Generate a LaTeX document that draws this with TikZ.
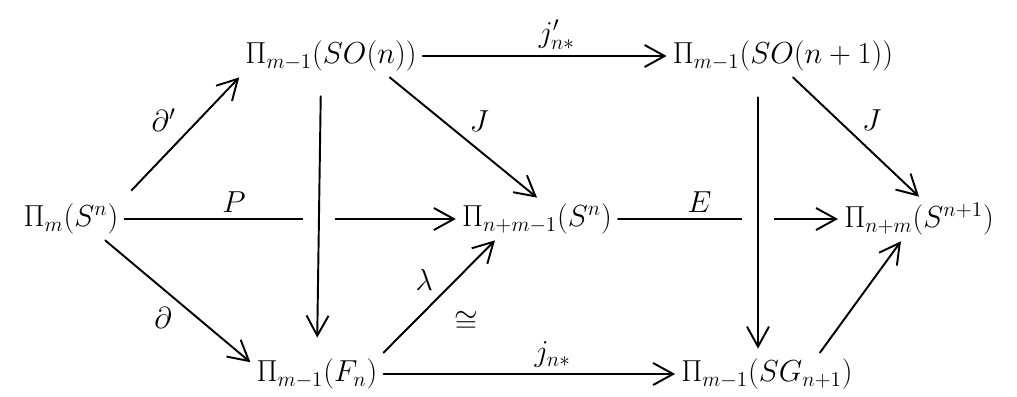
\documentclass[tikz,border=0pt]{standalone}
\usepackage{amsmath,amssymb}
\usetikzlibrary{arrows.meta}
\begin{document}
\begin{tikzpicture}[x=0.02cm,y=-0.02cm,>={Straight Barb[length=4mm,width=4.4mm]}, font=\LARGE, line join=round, line cap=round, line width=1.1pt, inner sep=3pt, over/.style={preaction={draw=white,-,line cap=butt,line width=18pt}}]
	\useasboundingbox (0,0) rectangle (1017,396);
	\node (ms) at (71,219) {$\Pi_m(S^n)$};
	\node (so) at (331,56) {$\Pi_{m-1}(SO(n))$};
	\node (son) at (783,56) {$\Pi_{m-1}(SO(n+1))$};
	\node (snm) at (537,219) {$\Pi_{n+m-1}(S^n)$};
	\node (snp) at (919,219) {$\Pi_{n+m}(S^{n+1})$};
	\node (fn) at (317,374) {$\Pi_{m-1}(F_n)$};
	\node (sg) at (767,374) {$\Pi_{m-1}(SG_{n+1})$};
	\draw[->,shorten <=0.2cm] (ms.north east) -- (so.south west) node[midway,above left]{$\partial'$};
	\draw[->] (ms.-32) -- (fn.170) node[midway,below left]{$\partial$};
	\draw[->] (ms.east) -- (snm.west) node[pos=0.33,above]{$P$};
	\draw[->] (snm.east) -- (snp.west) node[pos=0.37,above]{$E$};
	\draw[->] (so.east) -- (son.west) node[pos=0.55,above]{$j'_{n*}$};
	\draw[->] (fn.east) -- (sg.west) node[pos=0.58,above]{$j_{n*}$};
	\draw[->] (so.-20) -- (snm.north) node[midway,above right]{$J$};
	\draw[->] (son.-65) -- (snp.north) node[midway,above right]{$J$};
	\draw[->] (fn.north east) -- (snm.-153) node[midway,above left]{$\lambda$} node[midway,below right=5pt]{$\cong$};
	\draw[->] (sg.22) -- (snp.-129);
	\draw[->,over,shorten <=0.38cm,shorten >=0.3cm] ([xshift=-0.2cm]so.south) -- (fn.north);
	\draw[->,over,shorten <=0.4cm,shorten >=0.08cm] ([xshift=-0.5cm]son.south) -- ([xshift=-0.18cm]sg.north);
\end{tikzpicture}
\end{document}
